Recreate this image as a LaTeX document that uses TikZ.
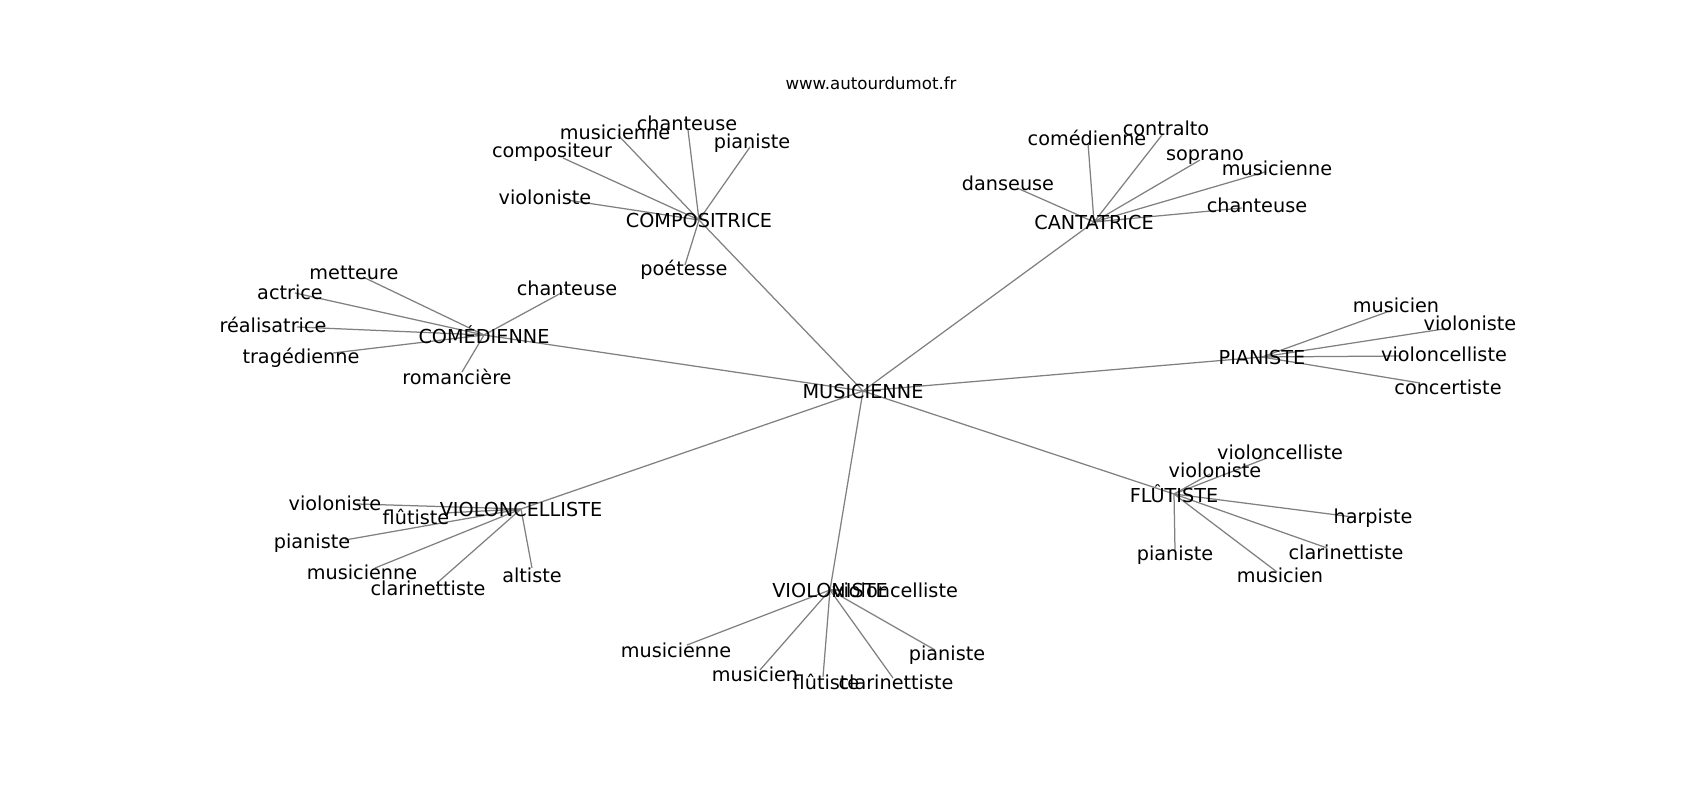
\documentclass[tikz,border=0pt]{standalone}
\usepackage{fontspec}
\setmainfont{DejaVu Sans}
\usepackage{tikz}
\tikzstyle{hub}=[inner sep=0pt,font=\fontsize{13.9}{16}\selectfont]
\tikzstyle{leaf}=[inner sep=0pt,font=\fontsize{13.9}{16}\selectfont]
\tikzstyle{link} = [draw,black!50,line width=0.9pt]
\tikzstyle{sitename} = [inner sep=0pt,font=\fontsize{12}{14}\selectfont]
\newif\ifedgepass
% hub, name, word position, edge end, word
\newcommand{\leafword}[5]{%
  \ifedgepass
    \coordinate (#1-#2-end) at #4;
    \path[link] (#1) -- (#1-#2-end);
  \else
    \node[leaf] (#1-#2) at #3 {#5};
  \fi}
\newcommand{\allleaves}{%
  \leafword{compositrice}{chanteuse}{(687,123)}{(688,130)}{chanteuse}
  \leafword{compositrice}{musicienne}{(615,132)}{(618,135)}{musicienne}
  \leafword{compositrice}{pianiste}{(752,143)}{(750,147)}{pianiste}
  \leafword{compositrice}{compositeur}{(552,152)}{(563,158)}{compositeur}
  \leafword{compositrice}{violoniste}{(545,197)}{(567,200)}{violoniste}
  \leafword{compositrice}{poetesse}{(684,270)}{(685,265)}{poétesse}
  \leafword{cantatrice}{comedienne}{(1087,138)}{(1088,143)}{comédienne}
  \leafword{cantatrice}{contralto}{(1166,128)}{(1162,135)}{contralto}
  \leafword{cantatrice}{soprano}{(1205,157)}{(1200,160)}{soprano}
  \leafword{cantatrice}{musicienne}{(1277,168)}{(1265,172)}{musicienne}
  \leafword{cantatrice}{chanteuse}{(1257,205)}{(1242,208)}{chanteuse}
  \leafword{cantatrice}{danseuse}{(1008,183)}{(1017,188)}{danseuse}
  \leafword{comedienne}{metteure}{(354,273)}{(363,277)}{metteure}
  \leafword{comedienne}{actrice}{(290,292)}{(295,293)}{actrice}
  \leafword{comedienne}{realisatrice}{(273,325)}{(297,327)}{réalisatrice}
  \leafword{comedienne}{tragedienne}{(301,358)}{(333,353)}{tragédienne}
  \leafword{comedienne}{romanciere}{(457,377)}{(462,372)}{romancière}
  \leafword{comedienne}{chanteuse}{(567,288)}{(563,292)}{chanteuse}
  \leafword{pianiste}{musicien}{(1396,305)}{(1387,312)}{musicien}
  \leafword{pianiste}{violoniste}{(1470,323)}{(1450,328)}{violoniste}
  \leafword{pianiste}{violoncelliste}{(1444,354)}{(1400,356)}{violoncelliste}
  \leafword{pianiste}{concertiste}{(1448,387)}{(1420,383)}{concertiste}
  \leafword{violoncelliste}{violoniste}{(335,503)}{(357,504)}{violoniste}
  \leafword{violoncelliste}{flutiste}{(416,517)}{(445,513)}{flûtiste}
  \leafword{violoncelliste}{pianiste}{(312,543)}{(345,540)}{pianiste}
  \leafword{violoncelliste}{musicienne}{(362,572)}{(375,568)}{musicienne}
  \leafword{violoncelliste}{clarinettiste}{(428,588)}{(437,583)}{clarinettiste}
  \leafword{violoncelliste}{altiste}{(532,575)}{(532,568)}{altiste}
  \leafword{flutiste}{violoncelliste}{(1280,452)}{(1267,458)}{violoncelliste}
  \leafword{flutiste}{violoniste}{(1215,470)}{(1210,474)}{violoniste}
  \leafword{flutiste}{harpiste}{(1373,518)}{(1353,517)}{harpiste}
  \leafword{flutiste}{clarinettiste}{(1346,552)}{(1327,548)}{clarinettiste}
  \leafword{flutiste}{musicien}{(1280,575)}{(1277,572)}{musicien}
  \leafword{flutiste}{pianiste}{(1175,555)}{(1175,550)}{pianiste}
  \leafword{violoniste}{violoncelliste}{(895,590)}{(843,590)}{violoncelliste}
  \leafword{violoniste}{musicienne}{(676,650)}{(687,645)}{musicienne}
  \leafword{violoniste}{musicien}{(755,674)}{(760,670)}{musicien}
  \leafword{violoniste}{flutiste}{(826,682)}{(823,677)}{flûtiste}
  \leafword{violoniste}{clarinettiste}{(896,682)}{(893,678)}{clarinettiste}
  \leafword{violoniste}{pianiste}{(947,655)}{(935,650)}{pianiste}}

\begin{document}
\begin{tikzpicture}[x=0.01in,y=-0.01in]
    \useasboundingbox (0,0) rectangle (1700,800);
    \node[sitename] (site) at (871,83) {www.autourdumot.fr};
    % First the central word and the seven hubs, as points
    \foreach \px/\py/\name in {863/391/musicienne, 699/220/compositrice,
                               1094/222/cantatrice, 484/335/comedienne,
                               1262/357/pianiste, 521/509/violoncelliste,
                               1174/494/flutiste, 830/590/violoniste}
        \coordinate (\name) at (\px,\py);
    % Edges go under the words
    \foreach \dest in {compositrice, cantatrice, comedienne, pianiste,
                       violoncelliste, flutiste, violoniste}
        \path[link] (musicienne) -- (\dest);
    \edgepasstrue \allleaves
    % Then the words
    \foreach \name/\word in {musicienne/MUSICIENNE, compositrice/COMPOSITRICE,
                             cantatrice/CANTATRICE, comedienne/COMÉDIENNE,
                             pianiste/PIANISTE, violoncelliste/VIOLONCELLISTE,
                             flutiste/FLÛTISTE, violoniste/VIOLONISTE}
        \node[hub] (\name-word) at (\name) {\word};
    \edgepassfalse \allleaves
\end{tikzpicture}
\end{document}
